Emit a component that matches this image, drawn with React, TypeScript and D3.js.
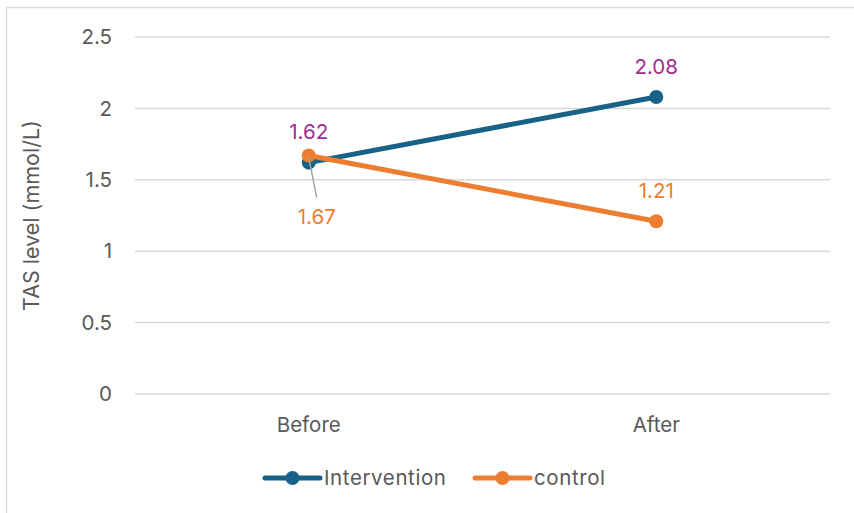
import React from "react";
import * as d3 from "d3";

const categories = ["Before", "After"];
const interventionValues = [1.62, 2.08];
const controlValues = [1.67, 1.21];
const yTicks = [0, 0.5, 1, 1.5, 2, 2.5];
const seriesNames = ["Intervention", "control"];

const W = 854;
const H = 513;
const M = { left: 135, right: 830, top: 37, bottom: 394 };
const FONT = "Inter, 'Open Sans', sans-serif";
const FS = 20.5;
const BLUE = "#186187";
const ORANGE = "#ED7D31";
const PURPLE = "#A02B93";
const TEXT = "#595959";

export default function App() {
  const x = d3.scaleBand<string>().domain(categories).range([M.left, M.right]);
  const y = d3.scaleLinear().domain([0, 2.5]).range([M.bottom, M.top]);
  const cx = (c: string) => (x(c) as number) + x.bandwidth() / 2;
  const line = d3
    .line<number>()
    .x((_, i) => cx(categories[i]))
    .y((v) => y(v));

  const series = [
    { name: seriesNames[0], values: interventionValues, color: BLUE },
    { name: seriesNames[1], values: controlValues, color: ORANGE },
  ];

  return (
    <svg
      width={W}
      height={H}
      style={{ position: "absolute", left: 0, top: 0, background: "#fff" }}
      fontFamily={FONT}
    >
      <rect x={6.5} y={7.5} width={900} height={600} fill="#fff" stroke="#d9d9d9" strokeWidth={1.5} />
      {yTicks.map((t) => (
        <g key={t}>
          <line x1={M.left} x2={M.right} y1={y(t)} y2={y(t)} stroke="#d9d9d9" strokeWidth={1.5} />
          <text x={112} y={y(t)} dy="0.35em" textAnchor="end" fontSize={FS} fill={TEXT}>
            {t}
          </text>
        </g>
      ))}
      {categories.map((c) => (
        <text key={c} x={cx(c)} y={432} textAnchor="middle" fontSize={FS} fill={TEXT}>
          {c}
        </text>
      ))}
      <text
        transform={`translate(39,${(M.top + M.bottom) / 2}) rotate(-90)`}
        textAnchor="middle"
        fontSize={21.5}
        fill={TEXT}
      >
        TAS level (mmol/L)
      </text>

      {series.map((s) => (
        <g key={s.name}>
          <path d={line(s.values) || ""} fill="none" stroke={s.color} strokeWidth={5} strokeLinecap="round" />
          {s.values.map((v, i) => (
            <circle key={i} cx={cx(categories[i])} cy={y(v)} r={7} fill={s.color} />
          ))}
        </g>
      ))}

      {/* leader line for 1.67 */}
      <line
        x1={cx(categories[0])}
        y1={y(controlValues[0]) + 2}
        x2={cx(categories[0]) + 8}
        y2={y(controlValues[0]) + 42}
        stroke="#a6a6a6"
        strokeWidth={1.5}
      />

      {/* data labels */}
      <text x={cx(categories[0])} y={y(interventionValues[0]) - 24} textAnchor="middle" fontSize={FS} fill={PURPLE}>
        {interventionValues[0]}
      </text>
      <text x={cx(categories[1])} y={y(interventionValues[1]) - 23} textAnchor="middle" fontSize={FS} fill={PURPLE}>
        {interventionValues[1]}
      </text>
      <text x={cx(categories[0]) + 8} y={y(controlValues[0]) + 68} textAnchor="middle" fontSize={FS} fill={ORANGE}>
        {controlValues[0]}
      </text>
      <text x={cx(categories[1])} y={y(controlValues[1]) - 23} textAnchor="middle" fontSize={FS} fill={ORANGE}>
        {controlValues[1]}
      </text>

      {/* legend */}
      {series.map((s, i) => {
        const lx = i === 0 ? 265 : 475;
        return (
          <g key={s.name}>
            <line x1={lx} x2={lx + 55} y1={478} y2={478} stroke={s.color} strokeWidth={5} strokeLinecap="round" />
            <circle cx={lx + 27.5} cy={478} r={7} fill={s.color} />
            <text x={lx + 59} y={478} dy="0.35em" fontSize={FS} letterSpacing={0.6} fill={TEXT}>
              {s.name}
            </text>
          </g>
        );
      })}
    </svg>
  );
}
